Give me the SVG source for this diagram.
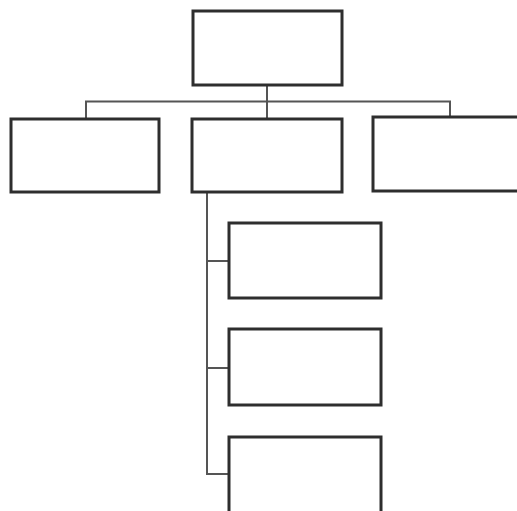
<svg xmlns="http://www.w3.org/2000/svg" width="517" height="511" viewBox="0 0 517 511">
<style>
.box{fill:#fff;stroke:#2e2e2e;stroke-width:3}
.con{fill:none;stroke:#555;stroke-width:2}
</style>
<rect width="517" height="511" fill="#fff"/>
<g id="connectors">
<path class="con" d="M267 85V119"/>
<path class="con" d="M86 119V101.5H450V117"/>
<path class="con" d="M207 192V474H229"/>
<path class="con" d="M207 261H229"/>
<path class="con" d="M207 368H229"/>
</g>
<g id="root"><rect class="box" x="193" y="11" width="149" height="74"/></g>
<g id="left"><rect class="box" x="11" y="119" width="148" height="73"/></g>
<g id="middle"><rect class="box" x="192" y="119" width="150" height="73"/></g>
<g id="right"><rect class="box" x="373" y="117" width="150" height="74"/></g>
<g id="child1"><rect class="box" x="229" y="223" width="152" height="75"/></g>
<g id="child2"><rect class="box" x="229" y="329" width="152" height="76"/></g>
<g id="child3"><rect class="box" x="229" y="437" width="152" height="80"/></g>
</svg>
